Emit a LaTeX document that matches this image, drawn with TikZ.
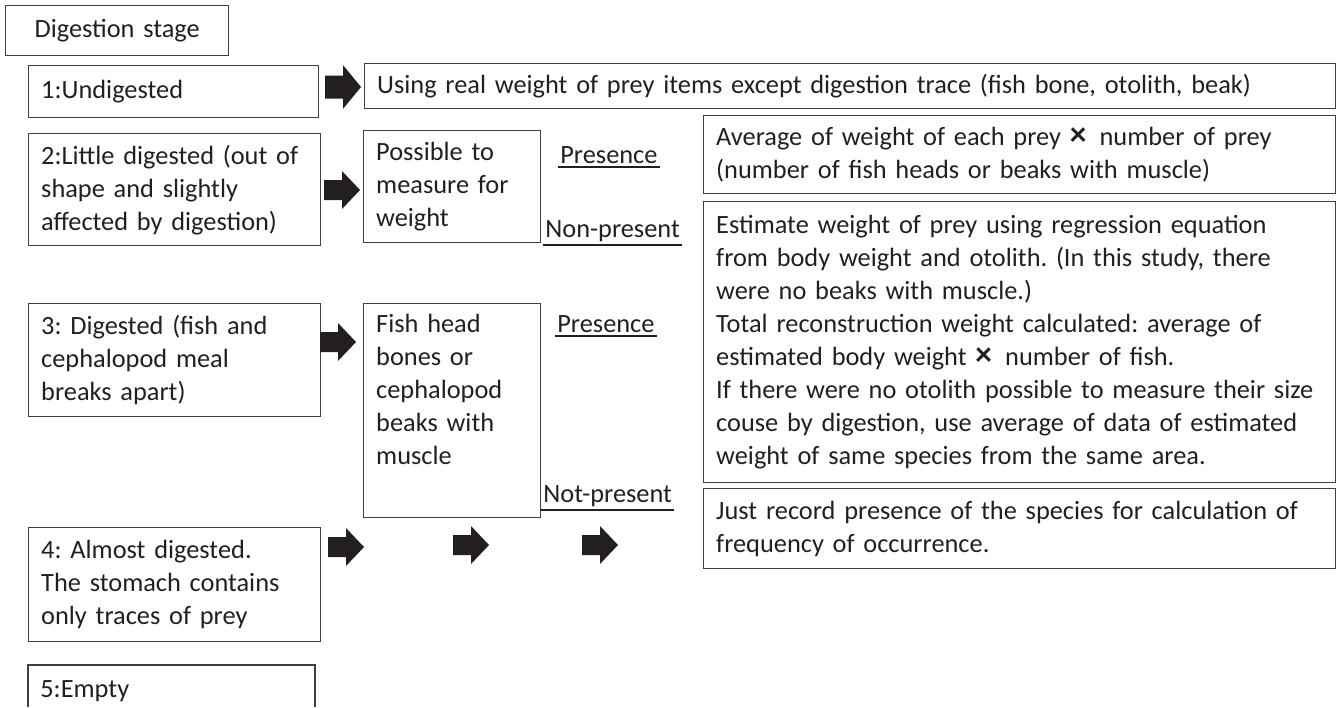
\documentclass[tikz,border=0pt]{standalone}
\usepackage{fontspec}
\setmainfont{Carlito}
\usepackage{tikz}
\frenchspacing

\definecolor{ink}{RGB}{35,31,32}
\definecolor{frame}{RGB}{64,64,64}

\newcommand{\bytimes}{\ {\fontsize{19pt}{18.8pt}\selectfont\bfseries ×}\ \,}

\tikzset{
  stagebox/.style={draw=frame, line width=0.8pt, anchor=north west, align=left,
    inner xsep=0.25cm, inner ysep=0pt, text=ink,
    font=\fontsize{15pt}{18.8pt}\selectfont},
  tag/.style={anchor=base west, inner xsep=0.04cm, inner ysep=0.06cm, text=ink,
    font=\fontsize{15pt}{18.8pt}\selectfont},
  uline/.style={ink, line width=1.1pt},
  blockarrow/.pic={\fill[ink] (-18,-10) -- (0,-10) -- (0,-19) -- (18,0) -- (0,19) -- (0,10) -- (-18,10) -- cycle;}
}

\begin{document}
\begin{tikzpicture}[x=0.02cm, y=-0.02cm]
    \useasboundingbox (0,0) rectangle (1337,707);

    % Header
    \node[stagebox, align=center, text width=3.96cm, minimum width=4.46cm, minimum height=1cm] (head) at (5,5) {Digestion stage};

    % Digestion stages on the left
    \node[stagebox, text width=5.3cm, minimum height=1.04cm] (s1) at (28,65) {1:Undigested};
    \node[stagebox, text width=5.34cm, minimum height=2.24cm] (s2) at (28,133)
        {2:Little digested (out of\\ shape and slightly\\ affected by digestion)};
    \node[stagebox, text width=5.34cm, minimum height=2.26cm] (s3) at (28,303)
        {3: Digested (fish and\\ cephalopod meal\\ breaks apart)};
    \node[stagebox, text width=5.34cm, minimum height=2.28cm] (s4) at (28,527)
        {4: Almost digested.\\ The stomach contains\\ only traces of prey};
    % Stage 5 runs off the bottom edge
    \draw[frame, line width=0.8pt] (28,707) |- (315,665) -- (315,707);
    \node[tag, inner xsep=0pt] (s5) at (40,697) {5:Empty};

    % What can be measured
    \node[stagebox, text width=3.04cm, minimum height=2.24cm] (meas) at (363,130)
        {Possible to\\ measure for\\ weight};
    \node[stagebox, text width=3.04cm, minimum height=4.28cm] (fish) at (363,303)
        {Fish head\\ bones or\\ cephalopod\\ beaks with\\ muscle\\ \strut};

    % How the weight is obtained
    \node[stagebox, text width=18.92cm, minimum height=0.9cm] (real) at (364,63)
        {Using real weight of prey items except digestion trace (fish bone, otolith, beak)};
    \node[stagebox, text width=12.14cm, minimum height=1.56cm] (avg) at (703,115)
        {Average of weight of each prey\bytimes number of prey\\ (number of fish heads or beaks with muscle)};
    \node[stagebox, text width=12.14cm, minimum height=5.62cm] (est) at (703,201)
        {Estimate weight of prey using regression equation\\
         from body weight and otolith. (In this study, there\\
         were no beaks with muscle.)\\
         Total reconstruction weight calculated: average of\\
         estimated body weight\bytimes number of fish.\\
         If there were no otolith possible to measure their size\\
         couse by digestion, use average of data of estimated\\
         weight of same species from the same area.};
    \node[stagebox, text width=12.14cm, minimum height=1.6cm] (just) at (703,488)
        {Just record presence of the species for calculation of\\ frequency of occurrence.};

    % Presence / absence tags
    \node[tag] (pr2) at (558,163) {Presence};
    \node[tag] (np2) at (543,237) {Non-present};
    \node[tag] (pr3) at (555,332) {Presence};
    \node[tag] (np3) at (541,502) {Not-present};
    \foreach \t in {pr2,np2,pr3,np3}
        \draw[uline] (\t.south west) -- (\t.south east);

    % Block arrows
    \pic[yscale=1.15] at (343,87) {blockarrow};
    \foreach \x/\y in {342/190, 338/342, 346/547, 471/545, 600/545}
        \pic at (\x,\y) {blockarrow};
\end{tikzpicture}
\end{document}
